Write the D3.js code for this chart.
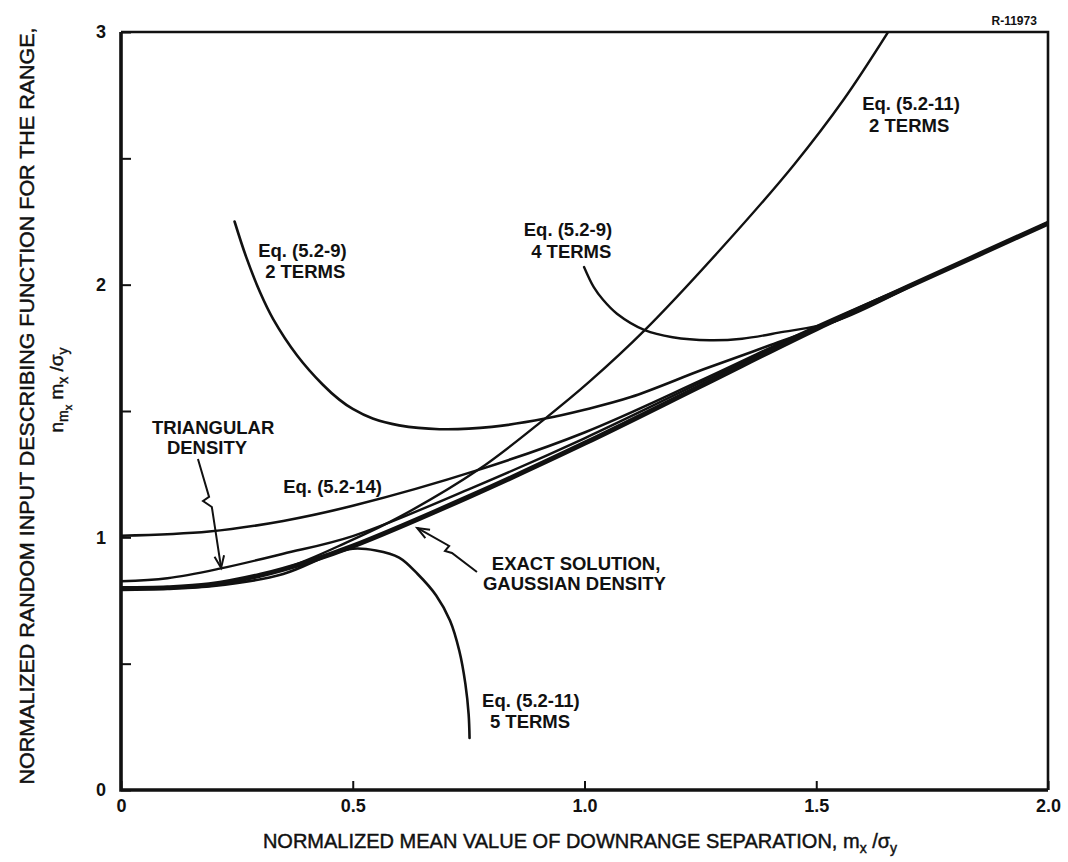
<!DOCTYPE html>
<html>
<head>
<meta charset="utf-8">
<script src="https://cdn.jsdelivr.net/npm/d3@7"></script>
<style>
  html, body { margin: 0; background: #fff; }
  text { font-family: "Liberation Sans", Arial, Helvetica, sans-serif; fill: #111; }
</style>
</head>
<body>
<svg id="chart" width="1068" height="862"></svg>
<script>
// ---- Curve data (m_x / sigma_y  ->  n * m_x / sigma_y) ----
const exactX = [0, 0.1, 0.19, 0.3, 0.407, 0.5, 0.75, 1.0, 1.25, 1.5, 1.75, 2.0];
const exactY = [0.797, 0.800, 0.812, 0.850, 0.905, 0.965, 1.160, 1.372, 1.598, 1.825, 2.035, 2.243];

const triX = [0, 0.1, 0.213, 0.35, 0.5, 0.75, 1.0, 1.25, 1.5, 1.75, 2.0];
const triY = [0.826, 0.838, 0.876, 0.935, 1.005, 1.190, 1.392, 1.612, 1.830, 2.037, 2.245];

const eq514X = [0, 0.19, 0.35, 0.5, 0.773, 1.0, 1.25, 1.5, 1.75, 2.0];
const eq514Y = [1.006, 1.023, 1.065, 1.125, 1.268, 1.415, 1.620, 1.835, 2.037, 2.245];

const eq59t2X = [0.245, 0.27, 0.3, 0.328, 0.38, 0.435, 0.471, 0.5, 0.543, 0.6, 0.687, 0.8, 0.915, 1.0, 1.1, 1.257, 1.4, 1.54, 1.75, 2.0];
const eq59t2Y = [2.25, 2.11, 1.97, 1.865, 1.720, 1.605, 1.545, 1.508, 1.470, 1.443, 1.428, 1.437, 1.470, 1.505, 1.555, 1.665, 1.760, 1.855, 2.035, 2.245];

const eq59t4X = [0.999, 1.02, 1.04, 1.07, 1.13, 1.19, 1.27, 1.34, 1.419, 1.54, 1.75, 2.0];
const eq59t4Y = [2.07, 1.99, 1.94, 1.885, 1.820, 1.792, 1.780, 1.786, 1.810, 1.855, 2.035, 2.245];

const eq511t2X = [0, 0.2, 0.35, 0.493, 0.6, 0.773, 0.915, 1.01, 1.13, 1.296, 1.452, 1.56, 1.655];
const eq511t2Y = [0.797, 0.815, 0.875, 0.985, 1.080, 1.270, 1.470, 1.615, 1.820, 2.145, 2.475, 2.735, 3.0];

const eq511t5X = [0, 0.2, 0.35, 0.45, 0.5, 0.55, 0.6, 0.64, 0.68, 0.71, 0.73, 0.743, 0.75, 0.752];
const eq511t5Y = [0.797, 0.808, 0.855, 0.930, 0.955, 0.948, 0.920, 0.855, 0.770, 0.670, 0.550, 0.420, 0.300, 0.206];

// ---- Axis ticks ----
const xTicks = [0, 0.5, 1.0, 1.5, 2.0];
const xTickLabels = ["0", "0.5", "1.0", "1.5", "2.0"];
const yTicks = [0, 0.5, 1, 1.5, 2, 2.5, 3];
const yTickLabels = ["0", "", "1", "", "2", "", "3"];

const svg = d3.select("#chart");
const W = 1068, H = 862;
svg.append("rect").attr("width", W).attr("height", H).attr("fill", "#fff");

const x = d3.scaleLinear().domain([0, 2]).range([121, 1048]);
const y = d3.scaleLinear().domain([0, 3]).range([790, 32]);

// clip region for curves
svg.append("clipPath").attr("id", "plot")
  .append("rect").attr("x", x(0)).attr("y", y(3)).attr("width", x(2) - x(0)).attr("height", y(0) - y(3));

const zip = (xs, ys) => xs.map((v, i) => [v, ys[i]]);
const line = d3.line().x(d => x(d[0])).y(d => y(d[1])).curve(d3.curveCatmullRom.alpha(0.5));

const curves = [
  { pts: zip(triX, triY), w: 2.4 },
  { pts: zip(eq514X, eq514Y), w: 2.6 },
  { pts: zip(eq59t2X, eq59t2Y), w: 2.6 },
  { pts: zip(eq59t4X, eq59t4Y), w: 2.4 },
  { pts: zip(eq511t2X, eq511t2Y), w: 2.4 },
  { pts: zip(eq511t5X, eq511t5Y), w: 2.6 },
  { pts: zip(exactX, exactY), w: 5 }
];

const g = svg.append("g").attr("clip-path", "url(#plot)");
g.selectAll("path.curve").data(curves).join("path")
  .attr("class", "curve")
  .attr("d", d => line(d.pts))
  .attr("fill", "none")
  .attr("stroke", "#111")
  .attr("stroke-width", d => d.w)
  .attr("stroke-linejoin", "round")
  .attr("stroke-linecap", "round");

// ---- Axes ----
const xAxis = d3.axisBottom(x).tickValues(xTicks)
  .tickFormat((d, i) => xTickLabels[i]).tickSizeInner(-9).tickSizeOuter(0).tickPadding(9);
const yAxis = d3.axisLeft(y).tickValues(yTicks)
  .tickFormat((d, i) => yTickLabels[i]).tickSizeInner(-10).tickSizeOuter(0).tickPadding(14);

const gx = svg.append("g").attr("transform", `translate(0,${y(0)})`).call(xAxis);
const gy = svg.append("g").attr("transform", `translate(${x(0)},0)`).call(yAxis);
[gx, gy].forEach(a => {
  a.select(".domain").remove();
  a.selectAll(".tick line").attr("stroke", "#111").attr("stroke-width", 2);
  a.selectAll(".tick text").attr("fill", "#111")
    .style("font-family", '"Liberation Sans", Arial, sans-serif')
    .style("font-size", "18px").style("font-weight", "bold");
});
gy.selectAll(".tick text").attr("text-anchor", "middle").attr("x", -20);

// frame: heavy left/bottom axes, lighter top/right border
svg.append("path")
  .attr("d", `M${x(0)},${y(3)} H${x(2)} V${y(0)}`)
  .attr("fill", "none").attr("stroke", "#111").attr("stroke-width", 2.6);
svg.append("path")
  .attr("d", `M${x(0)},${y(3)} V${y(0)} H${x(2)}`)
  .attr("fill", "none").attr("stroke", "#111").attr("stroke-width", 3.6);

// ---- Axis titles ----
const xt = svg.append("text")
  .attr("x", 580).attr("y", 848)
  .attr("text-anchor", "middle")
  .style("font-size", "20px").style("font-weight", "normal")
  .style("stroke", "#111").style("stroke-width", 0.45);
xt.append("tspan").text("NORMALIZED MEAN VALUE OF DOWNRANGE SEPARATION, m");
xt.append("tspan").attr("dy", 5).style("font-size", "14px").text("x");
xt.append("tspan").attr("dy", -5).text(" /σ");
xt.append("tspan").attr("dy", 5).style("font-size", "14px").text("y");

svg.append("text")
  .attr("transform", "translate(34,406) rotate(-90)")
  .attr("text-anchor", "middle")
  .attr("textLength", 757).attr("lengthAdjust", "spacingAndGlyphs")
  .style("font-size", "19.5px").style("font-weight", "normal")
  .style("stroke", "#111").style("stroke-width", 0.45)
  .text("NORMALIZED RANDOM INPUT DESCRIBING FUNCTION FOR THE RANGE,");

const yt2 = svg.append("text")
  .attr("transform", "translate(63,390) rotate(-90)")
  .attr("text-anchor", "middle")
  .style("font-size", "19px").style("font-weight", "normal")
  .style("stroke", "#111").style("stroke-width", 0.45);
yt2.append("tspan").text("n");
yt2.append("tspan").attr("dy", 5).style("font-size", "14px").text("m");
yt2.append("tspan").attr("dy", 4).style("font-size", "11px").text("x");
yt2.append("tspan").attr("dy", -9).text(" m");
yt2.append("tspan").attr("dy", 5).style("font-size", "14px").text("x");
yt2.append("tspan").attr("dy", -5).text(" /σ");
yt2.append("tspan").attr("dy", 5).style("font-size", "14px").text("y");

// ---- Annotations ----
const labels = [
  { t: "R-11973", x: 1.976, y: 3.028, anchor: "end", size: 12 },
  { t: "Eq. (5.2-11)", x: 1.599, y: 2.691 },
  { t: "2 TERMS", x: 1.614, y: 2.604 },
  { t: "Eq. (5.2-9)", x: 0.869, y: 2.193 },
  { t: "4 TERMS", x: 0.885, y: 2.105 },
  { t: "Eq. (5.2-9)", x: 0.296, y: 2.109 },
  { t: "2 TERMS", x: 0.311, y: 2.026 },
  { t: "TRIANGULAR", x: 0.067, y: 1.409 },
  { t: "DENSITY", x: 0.099, y: 1.330 },
  { t: "Eq. (5.2-14)", x: 0.350, y: 1.175 },
  { t: "EXACT SOLUTION,", x: 0.800, y: 0.871 },
  { t: "GAUSSIAN DENSITY", x: 0.781, y: 0.792 },
  { t: "Eq. (5.2-11)", x: 0.779, y: 0.328 },
  { t: "5 TERMS", x: 0.796, y: 0.245 }
];
svg.selectAll("text.ann").data(labels).join("text")
  .attr("class", "ann")
  .attr("x", d => x(d.x)).attr("y", d => y(d.y))
  .attr("text-anchor", d => d.anchor || "start")
  .style("font-size", d => (d.size || 18.5) + "px")
  .style("font-weight", "bold")
  .text(d => d.t);

// leader arrows with a lightning-style break
const arrows = [
  [[0.166, 1.310], [0.190, 1.160], [0.177, 1.144], [0.196, 1.120], [0.216, 0.879]],
  [[0.768, 0.863], [0.714, 0.938], [0.699, 0.946], [0.708, 0.966], [0.639, 1.037]]
];
arrows.forEach(a => {
  const p = a.map(d => [x(d[0]), y(d[1])]);
  svg.append("path").attr("d", d3.line()(p))
    .attr("fill", "none").attr("stroke", "#111").attr("stroke-width", 2)
    .attr("stroke-linejoin", "miter");
  const tip = p[p.length - 1], prev = p[p.length - 2];
  const ang = Math.atan2(tip[1] - prev[1], tip[0] - prev[0]);
  const L = 13, spread = 0.38;
  const w1 = [tip[0] - L * Math.cos(ang - spread), tip[1] - L * Math.sin(ang - spread)];
  const w2 = [tip[0] - L * Math.cos(ang + spread), tip[1] - L * Math.sin(ang + spread)];
  svg.append("path").attr("d", d3.line()([w1, tip, w2]))
    .attr("fill", "none").attr("stroke", "#111").attr("stroke-width", 2);
});
</script>
</body>
</html>
